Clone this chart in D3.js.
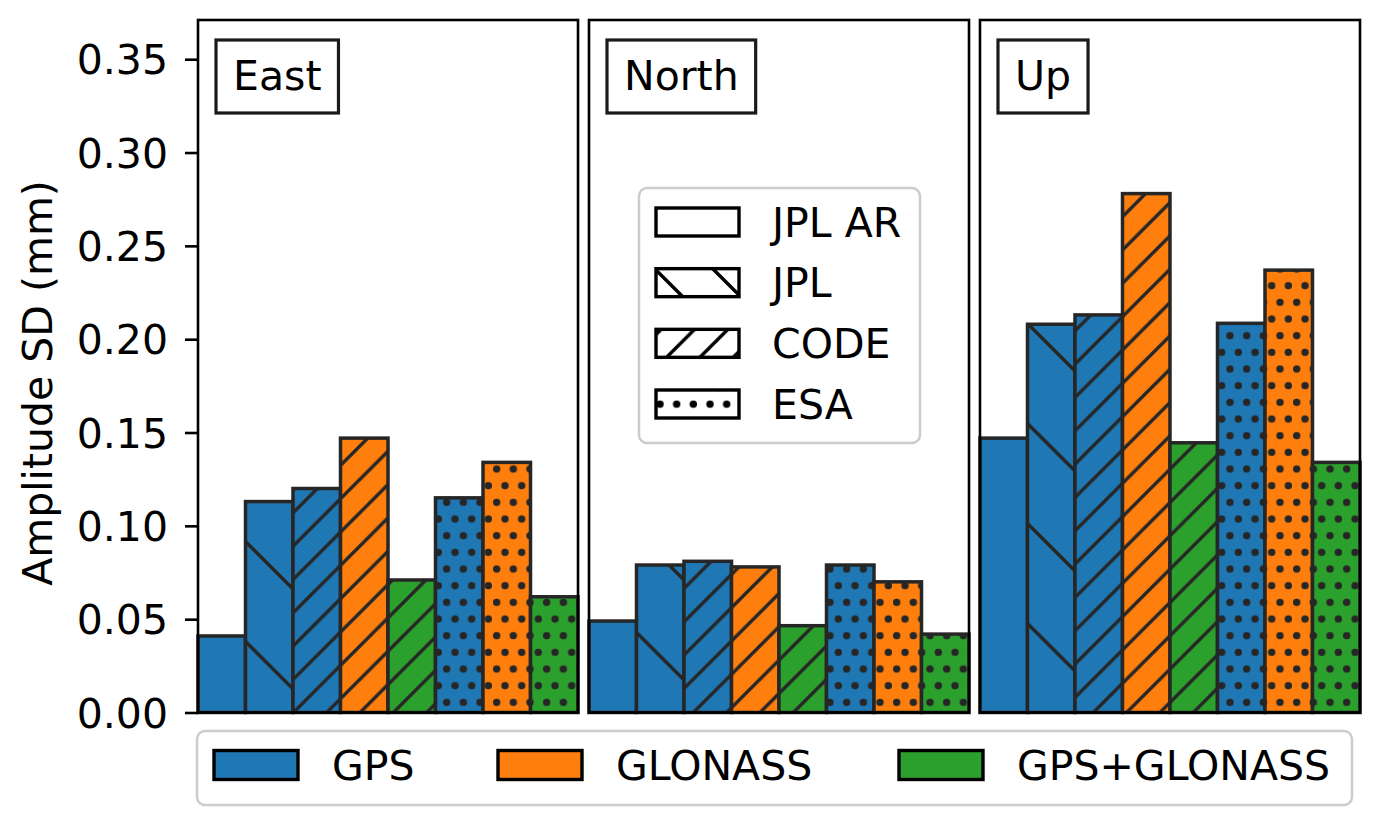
<!DOCTYPE html>
<html>
<head>
<meta charset="utf-8">
<script src="https://cdn.jsdelivr.net/npm/d3@7/dist/d3.min.js"></script>
<style>
  html, body { margin: 0; padding: 0; background: #ffffff; }
  svg { display: block; font-family: "DejaVu Sans", sans-serif; }
</style>
</head>
<body>
<svg id="chart" width="1381" height="826"></svg>
<script>
// ---------------- data ----------------
const components = ["East", "North", "Up"];
const barSystems = ["GPS", "GPS", "GPS", "GLONASS", "GPS+GLONASS", "GPS", "GLONASS", "GPS+GLONASS"];
const barSolutions = ["JPL AR", "JPL", "CODE", "CODE", "CODE", "ESA", "ESA", "ESA"];
const eastValues  = [0.041, 0.113, 0.120, 0.147, 0.071, 0.115, 0.134, 0.062];
const northValues = [0.049, 0.079, 0.081, 0.078, 0.0465, 0.079, 0.070, 0.042];
const upValues    = [0.147, 0.208, 0.213, 0.278, 0.1445, 0.2085, 0.237, 0.134];
const yTicks = [0.00, 0.05, 0.10, 0.15, 0.20, 0.25, 0.30, 0.35];
const systems = ["GPS", "GLONASS", "GPS+GLONASS"];
const solutions = ["JPL AR", "JPL", "CODE", "ESA"];
const yLabel = "Amplitude SD (mm)";

const valuesByComponent = { East: eastValues, North: northValues, Up: upValues };
const systemColor = d3.scaleOrdinal(systems, ["#1f77b4", "#ff7f0e", "#2ca02c"]);

// ---------------- setup ----------------
const svg = d3.select("#chart");
const defs = svg.append("defs");
const edge = "#262626";
const hatchW = 3.4;
const FS = 41;

function linePattern(id, dir, s, off, color) {
  const p = defs.append("pattern").attr("id", id)
    .attr("patternUnits", "userSpaceOnUse").attr("width", s).attr("height", s)
    .attr("patternTransform", dir === "/" ? `translate(${off},0)` : `translate(0,${off})`);
  let d;
  if (dir === "/") {
    d = `M${-s/2},${s/2}L${s/2},${-s/2}M0,${s}L${s},0M${s/2},${3*s/2}L${3*s/2},${s/2}`;
  } else {
    d = `M0,0L${s},${s}M${-s/2},${s/2}L${s/2},${3*s/2}M${s/2},${-s/2}L${3*s/2},${s/2}`;
  }
  p.append("path").attr("d", d).attr("stroke", color).attr("stroke-width", hatchW)
    .attr("fill", "none");
}
function dotPattern(id, dx, x0, y0, r, color) {
  const p = defs.append("pattern").attr("id", id)
    .attr("patternUnits", "userSpaceOnUse").attr("width", dx).attr("height", 2 * dx)
    .attr("x", x0).attr("y", y0);
  p.append("circle").attr("cx", dx / 4).attr("cy", dx / 2).attr("r", r).attr("fill", color);
  p.append("circle").attr("cx", 3 * dx / 4).attr("cy", 3 * dx / 2).attr("r", r).attr("fill", color);
}

linePattern("hJPL", "\\", 100, 96, edge);
linePattern("hCODE", "/", 33.33, 6, edge);
dotPattern("hESA", 16.667, 0.83, 10.67, 3.7, edge);
// legend variants
linePattern("lJPL", "\\", 58, 20, "#000");
linePattern("lCODE", "/", 33.33, 24, "#000");
dotPattern("lESA", 16.667, 5.83, -4.17, 3.7, "#000");

const hatchFor = { "JPL AR": null, "JPL": "hJPL", "CODE": "hCODE", "ESA": "hESA" };
const legendHatchFor = { "JPL AR": null, "JPL": "lJPL", "CODE": "lCODE", "ESA": "lESA" };

const y = d3.scaleLinear().domain([0, 0.371]).range([712.5, 20]);
const panelX = d3.scaleBand().domain(components).range([198, 1360]).paddingInner(0.0281);

// ---------------- panels ----------------
components.forEach(comp => {
  const x0 = panelX(comp), bw = panelX.bandwidth();
  const bx = d3.scaleBand().domain(d3.range(barSystems.length)).range([x0, x0 + bw]).padding(0);
  const vals = valuesByComponent[comp];
  const data = vals.map((v, i) => ({ v, i, sys: barSystems[i], sol: barSolutions[i] }));
  const g = svg.append("g");

  const bars = g.selectAll("g.bar").data(data).join("g").attr("class", "bar");
  const place = sel => sel.attr("x", d => bx(d.i)).attr("width", bx.bandwidth())
    .attr("y", d => y(d.v)).attr("height", d => y(0) - y(d.v));
  bars.append("rect").call(place).attr("fill", d => systemColor(d.sys));
  bars.filter(d => hatchFor[d.sol]).append("rect").call(place)
    .attr("fill", d => `url(#${hatchFor[d.sol]})`);
  bars.append("rect").call(place)
    .attr("fill", "none").attr("stroke", edge).attr("stroke-width", 3.5);

  // frame
  g.append("rect").attr("x", x0).attr("y", y.range()[1]).attr("width", bw)
    .attr("height", y.range()[0] - y.range()[1])
    .attr("fill", "none").attr("stroke", "#000").attr("stroke-width", 2.6);

  // title box
  const tx = x0 + 18;
  const t = g.append("text").attr("x", tx + 17).attr("y", 89.5)
    .attr("font-size", FS).attr("fill", "#000").text(comp);
  const tw = t.node().getComputedTextLength();
  g.insert("rect", "text").attr("x", tx).attr("y", 40).attr("width", tw + 34).attr("height", 73)
    .attr("fill", "#fff").attr("stroke", "#1a1a1a").attr("stroke-width", 3.2);
});

// ---------------- y axis ----------------
const yAxis = d3.axisLeft(y).tickValues(yTicks).tickFormat(d3.format(".2f")).tickSize(13).tickPadding(17);
const ya = svg.append("g").attr("transform", `translate(${panelX(components[0])},0)`).call(yAxis);
ya.select(".domain").remove();
ya.selectAll(".tick line").attr("stroke", "#000").attr("stroke-width", 2.6);
ya.selectAll(".tick text").attr("font-size", FS).attr("fill", "#000")
  .attr("font-family", "DejaVu Sans").attr("dy", "0.36em");

svg.append("text").attr("transform", "translate(52,383) rotate(-90)")
  .attr("text-anchor", "middle").attr("font-size", FS).attr("fill", "#000").text(yLabel);

// ---------------- hatch legend ----------------
const lg = svg.append("g");
lg.append("rect").attr("x", 639).attr("y", 188).attr("width", 281).attr("height", 255)
  .attr("rx", 8).attr("fill", "#fff").attr("fill-opacity", 0.8)
  .attr("stroke", "#cccccc").attr("stroke-width", 2.5);
const rowY = d3.scalePoint().domain(solutions).range([222, 404]);
solutions.forEach(sol => {
  const cy = rowY(sol);
  lg.append("rect").attr("x", 656).attr("y", cy - 14).attr("width", 83).attr("height", 28)
    .attr("fill", "#fff");
  if (legendHatchFor[sol]) {
    lg.append("rect").attr("x", 656).attr("y", cy - 14).attr("width", 83).attr("height", 28)
      .attr("fill", `url(#${legendHatchFor[sol]})`);
  }
  lg.append("rect").attr("x", 656).attr("y", cy - 14).attr("width", 83).attr("height", 28)
    .attr("fill", "none").attr("stroke", "#000").attr("stroke-width", 3.4);
  lg.append("text").attr("x", 772).attr("y", cy + 14.5).attr("font-size", FS)
    .attr("fill", "#000").text(sol);
});

// ---------------- system legend ----------------
const sg = svg.append("g");
sg.append("rect").attr("x", 197).attr("y", 731).attr("width", 1155).attr("height", 74)
  .attr("rx", 8).attr("fill", "#fff").attr("fill-opacity", 0.8)
  .attr("stroke", "#cccccc").attr("stroke-width", 2.5);
const sysX = d3.scaleOrdinal(systems, [213, 497, 898]);
systems.forEach(s => {
  const x = sysX(s);
  sg.append("rect").attr("x", x + 1).attr("y", 750.5).attr("width", 84).attr("height", 29)
    .attr("fill", systemColor(s)).attr("stroke", "#000").attr("stroke-width", 3.4);
  sg.append("text").attr("x", x + 119).attr("y", 779.5).attr("font-size", FS)
    .attr("fill", "#000").text(s);
});
</script>
</body>
</html>
